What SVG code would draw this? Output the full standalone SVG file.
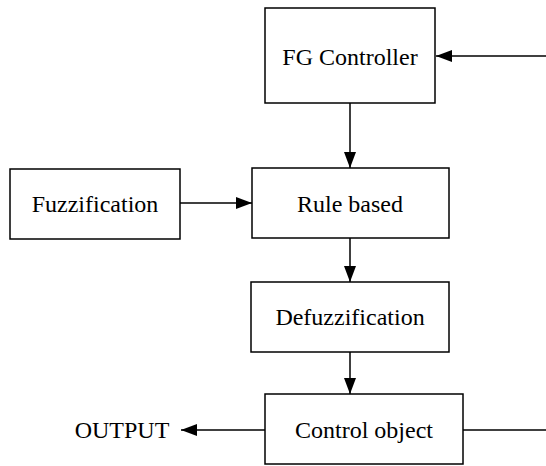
<svg xmlns="http://www.w3.org/2000/svg" width="546" height="466" viewBox="0 0 546 466">
<style>
.box{fill:#fff;stroke:#000;stroke-width:1.5}
.lbl{font-family:"Liberation Serif","Times New Roman",serif;font-size:24px;fill:#000;text-anchor:middle}
.ln{fill:none;stroke:#000;stroke-width:1.5}
</style>
<defs>
<marker id="ah" markerUnits="userSpaceOnUse" markerWidth="16" markerHeight="12" refX="16" refY="6" orient="auto">
<path d="M0,0 L16,6 L0,12 Z" fill="#000"/>
</marker>
</defs>
<rect width="546" height="466" fill="#fff"/>
<g id="connectors">
<line class="ln" x1="546" y1="56" x2="436" y2="56" marker-end="url(#ah)"/>
<line class="ln" x1="350" y1="103" x2="350" y2="168" marker-end="url(#ah)"/>
<line class="ln" x1="180" y1="203" x2="252" y2="203" marker-end="url(#ah)"/>
<line class="ln" x1="350" y1="238" x2="350" y2="282" marker-end="url(#ah)"/>
<line class="ln" x1="350" y1="352" x2="350" y2="394" marker-end="url(#ah)"/>
<line class="ln" x1="265" y1="430" x2="181" y2="430" marker-end="url(#ah)"/>
<line class="ln" x1="463" y1="430" x2="546" y2="430"/>
</g>
<g id="fg-controller">
<rect class="box" x="265" y="8" width="170" height="95"/>
<text class="lbl" x="350" y="65">FG Controller</text>
</g>
<g id="fuzzification">
<rect class="box" x="10" y="169" width="170" height="70"/>
<text class="lbl" x="95" y="212">Fuzzification</text>
</g>
<g id="rule-based">
<rect class="box" x="252" y="168" width="197" height="70"/>
<text class="lbl" x="350" y="212">Rule based</text>
</g>
<g id="defuzzification">
<rect class="box" x="251" y="282" width="198" height="70"/>
<text class="lbl" x="350" y="325">Defuzzification</text>
</g>
<g id="control-object">
<rect class="box" x="265" y="394" width="198" height="70"/>
<text class="lbl" x="364" y="438">Control object</text>
</g>
<g id="output">
<text class="lbl" x="122" y="438">OUTPUT</text>
</g>
</svg>
